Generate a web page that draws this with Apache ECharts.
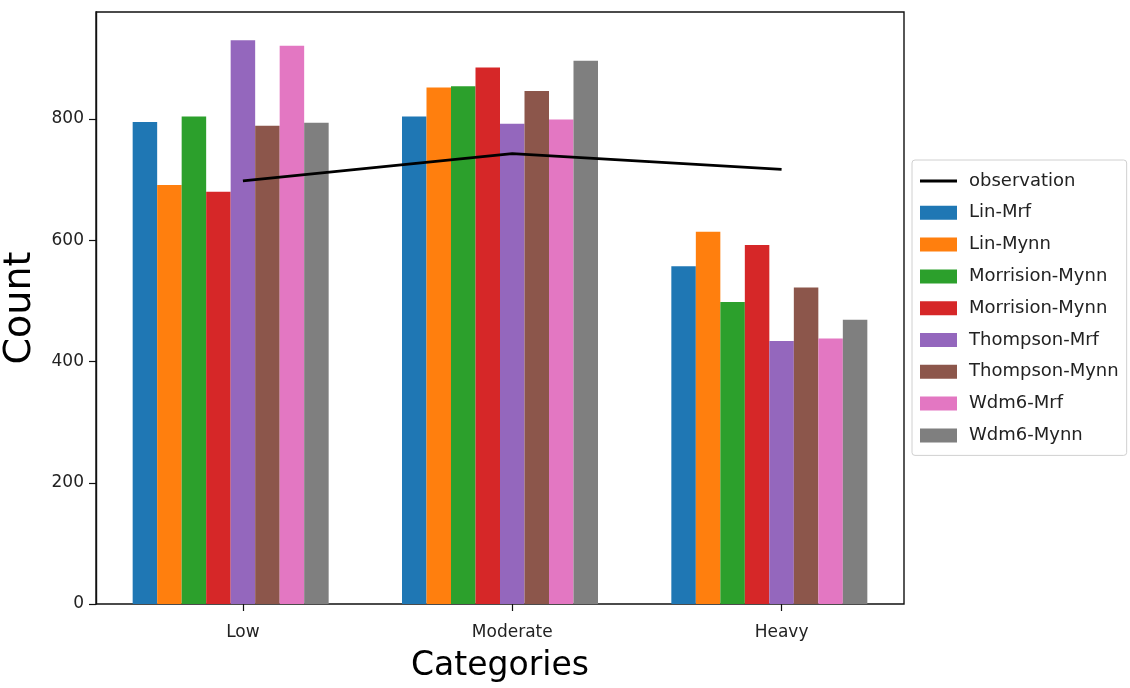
<!DOCTYPE html>
<html>
<head>
<meta charset="utf-8">
<script src="https://cdn.jsdelivr.net/npm/echarts@6/dist/echarts.min.js"></script>
<style>
  html, body { margin: 0; padding: 0; background: #fff; }
  #chart { width: 1130px; height: 688px; }
</style>
</head>
<body>
<div id="chart"></div>
<script>
// Rainfall intensity classes on the x axis
const categories = ['Low', 'Moderate', 'Heavy'];

// Simulated counts per microphysics / PBL scheme combination
const linMrf          = [795, 804, 557];
const linMynn         = [691, 852, 614];
const morrisionMynnA  = [804, 854, 498];
const morrisionMynnB  = [680, 885, 592];
const thompsonMrf     = [930, 792, 434];
const thompsonMynn    = [789, 846, 522];
const wdm6Mrf         = [921, 799, 438];
const wdm6Mynn        = [794, 896, 469];

// Observed counts per class
const observation = [698, 743, 717];

// y axis ticks
const yTicks = [0, 200, 400, 600, 800];

const seriesDefs = [
  { name: 'Lin-Mrf',         data: linMrf,         color: '#1f77b4' },
  { name: 'Lin-Mynn',        data: linMynn,        color: '#ff7f0e' },
  { name: 'Morrision-Mynn',  data: morrisionMynnA, color: '#2ca02c' },
  // same label text twice in the legend; a zero-width char keeps the entries apart
  { name: 'Morrision-Mynn\u200b', data: morrisionMynnB, color: '#d62728' },
  { name: 'Thompson-Mrf',    data: thompsonMrf,    color: '#9467bd' },
  { name: 'Thompson-Mynn',   data: thompsonMynn,   color: '#8c564b' },
  { name: 'Wdm6-Mrf',        data: wdm6Mrf,        color: '#e377c2' },
  { name: 'Wdm6-Mynn',       data: wdm6Mynn,       color: '#7f7f7f' }
];

const FONT = 'DejaVu Sans';
const chart = echarts.init(document.getElementById('chart'), null, { renderer: 'canvas' });

// offset (in category units) of the 5th bar centre from the group centre
const barW = 24.5;
const plotW = 1130 - 96 - 226;
const bandW = plotW / categories.length;
const shift = (barW / 2) / bandW;

const barSeries = seriesDefs.map(s => ({
  type: 'bar',
  name: s.name,
  data: s.data,
  xAxisIndex: 0,
  barWidth: barW,
  barGap: '0%',
  itemStyle: { color: s.color },
  emphasis: { disabled: true },
  animation: false
}));

const lineSeries = {
  type: 'line',
  name: 'observation',
  xAxisIndex: 1,
  data: observation.map((v, i) => [i, v]),
  symbol: 'none',
  lineStyle: { color: '#000', width: 2.8 },
  itemStyle: { color: '#000' },
  z: 5,
  animation: false
};

// legend layout shared by the line entry and the bar entries
const LEG = { left: 912, top: 160, padL: 8, padTop: 12, rowH: 18, gap: 13.8 };
const legendText = { fontFamily: FONT, fontSize: 18, color: '#222', lineHeight: 18, padding: [0, 0, 0, 7] };

chart.setOption({
  backgroundColor: '#fff',
  textStyle: { fontFamily: FONT },
  grid: {
    left: 96, right: 226, top: 12, bottom: 84,
    outerBoundsMode: 'none',
    containLabel: false,
    show: true, borderColor: '#111', borderWidth: 1.4, backgroundColor: 'transparent'
  },
  legend: [
    {
      // boxed legend for the bar series, leaving room for the line entry on top
      orient: 'vertical',
      left: LEG.left, top: LEG.top,
      padding: [LEG.padTop + LEG.rowH + LEG.gap, 8, 11, LEG.padL],
      itemGap: LEG.gap,
      itemWidth: 37, itemHeight: 14,
      icon: 'rect',
      borderColor: '#d0d0d0', borderWidth: 1, borderRadius: 3,
      textStyle: legendText,
      data: seriesDefs.map(s => s.name),
      formatter: n => n.replace('\u200b', ''),
      selectedMode: false,
      z: 4
    },
    {
      // line entry drawn as a thin black stroke
      orient: 'vertical',
      left: LEG.left, top: LEG.top,
      padding: [LEG.padTop, 8, 0, LEG.padL],
      itemWidth: 37, itemHeight: 2.8,
      icon: 'rect',
      textStyle: legendText,
      data: ['observation'],
      selectedMode: false,
      z: 5
    }
  ],
  xAxis: [
    {
      type: 'category',
      data: categories,
      boundaryGap: true,
      axisLine: { show: false },
      axisTick: { show: false },
      axisLabel: { show: false },
      splitLine: { show: false }
    },
    {
      type: 'value',
      min: -0.5 - shift,
      max: categories.length - 0.5 - shift,
      position: 'bottom',
      axisLine: { show: false, onZero: false },
      axisTick: { show: true, length: 7, lineStyle: { color: '#111', width: 1.2 }, customValues: [0, 1, 2] },
      axisLabel: {
        customValues: [0, 1, 2],
        formatter: v => categories[Math.round(v)] || '',
        fontFamily: FONT, fontSize: 17, color: '#222', margin: 20
      },
      splitLine: { show: false },
      name: 'Categories',
      nameLocation: 'middle',
      nameGap: 46,
      nameTextStyle: { fontFamily: FONT, fontSize: 33, color: '#000' }
    }
  ],
  yAxis: {
    type: 'value',
    min: 0,
    max: 976.5,
    position: 'left',
    axisLine: { show: true, onZero: false, lineStyle: { color: '#111', width: 1.4 } },
    axisTick: { show: true, length: 7, lineStyle: { color: '#111', width: 1.2 }, customValues: yTicks },
    axisLabel: {
      customValues: yTicks,
      fontFamily: FONT, fontSize: 17, color: '#222', margin: 12
    },
    splitLine: { show: false },
    name: 'Count',
    nameLocation: 'middle',
    nameGap: 57,
    nameMoveOverlap: false,
    nameRotate: 90,
    nameTextStyle: { fontFamily: FONT, fontSize: 38, color: '#000' }
  },
  series: barSeries.concat([lineSeries])
});
</script>
</body>
</html>
